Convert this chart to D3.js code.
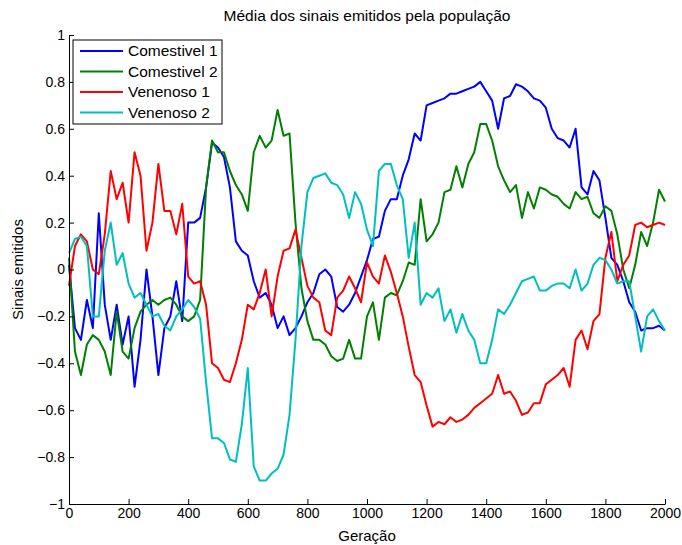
<!DOCTYPE html>
<html>
<head>
<meta charset="utf-8">
<script src="https://cdn.jsdelivr.net/npm/d3@7"></script>
<style>
  body { margin: 0; background: #fff; }
  text { font-family: "Liberation Sans", Arial, sans-serif; }
  .axis path, .axis line { stroke: #000; }
  .axis text { font-size: 14px; fill: #000; }
</style>
</head>
<body>
<div id="chart"></div>
<script>
////////////////////////////////////////////////////////////////////////
// Data (one value every 20 generations)

let generations = d3.range(0, 2001, 20);

let comestivel1 = [
  0.02, -0.25, -0.3, -0.13, -0.25, 0.24, -0.15, -0.3, -0.15, -0.32,
  -0.2, -0.5, -0.3, 0.0, -0.2, -0.45, -0.25, -0.2, -0.05, -0.22,
  0.2, 0.2, 0.22, 0.35, 0.54, 0.52, 0.48, 0.35, 0.12, 0.08,
  0.06, -0.05, -0.12, -0.1, -0.15, -0.25, -0.2, -0.28, -0.25, -0.2,
  -0.14, -0.1, -0.02, 0.0, -0.03, -0.16, -0.18, -0.15, -0.1, -0.03,
  0.04, 0.13, 0.14, 0.25, 0.3, 0.3, 0.4, 0.47, 0.58, 0.55,
  0.7, 0.71, 0.72, 0.73, 0.75, 0.75, 0.76, 0.77, 0.78, 0.8,
  0.76, 0.72, 0.6, 0.73, 0.74, 0.79, 0.78, 0.76, 0.73, 0.72,
  0.69, 0.6, 0.56, 0.55, 0.52, 0.6, 0.35, 0.32, 0.42, 0.38,
  0.22, 0.05, 0.02, -0.05, -0.14, -0.18, -0.26, -0.25, -0.25, -0.24,
  -0.26
];

let comestivel2 = [
  0.05, -0.35, -0.45, -0.32, -0.28, -0.3, -0.35, -0.45, -0.18, -0.35,
  -0.38, -0.25, -0.18, -0.15, -0.13, -0.15, -0.13, -0.12, -0.15, -0.2,
  -0.22, -0.2, -0.13, 0.35, 0.55, 0.5, 0.5, 0.42, 0.36, 0.32,
  0.25, 0.5, 0.57, 0.52, 0.55, 0.68, 0.57, 0.58, 0.2, -0.08,
  -0.22, -0.3, -0.3, -0.32, -0.37, -0.39, -0.38, -0.3, -0.38, -0.38,
  -0.2, -0.14, -0.3, -0.12, -0.1, -0.11, -0.05, 0.03, 0.02, 0.3,
  0.12, 0.15, 0.2, 0.33, 0.34, 0.44, 0.35, 0.45, 0.5, 0.62,
  0.62, 0.55, 0.44, 0.38, 0.33, 0.36, 0.22, 0.33, 0.26, 0.35,
  0.34, 0.32, 0.31, 0.28, 0.26, 0.33, 0.3, 0.31, 0.24, 0.22,
  0.27, 0.25, 0.15, 0.0, -0.08, 0.02, 0.16, 0.1, 0.2, 0.34,
  0.29
];

let venenoso1 = [
  -0.07, 0.1, 0.15, 0.12, 0.0, -0.02, 0.15, 0.42, 0.3, 0.37,
  0.2, 0.5, 0.4, 0.08, 0.2, 0.45, 0.25, 0.25, 0.15, 0.28,
  -0.03, -0.06, -0.05, -0.15, -0.4, -0.42, -0.47, -0.48, -0.4, -0.3,
  -0.15, -0.17, -0.1, 0.0, -0.2, -0.03, 0.08, 0.09, 0.17, 0.05,
  -0.07, -0.12, -0.14, -0.26, -0.28, -0.12, -0.09, -0.03, -0.08, -0.14,
  0.03, -0.03, -0.06, 0.06, -0.01, -0.1, -0.2, -0.33, -0.45, -0.48,
  -0.58, -0.67, -0.65, -0.66, -0.63, -0.65, -0.64, -0.62, -0.59, -0.57,
  -0.55, -0.53, -0.45, -0.53, -0.52, -0.56, -0.62, -0.61, -0.57, -0.57,
  -0.49, -0.47, -0.45, -0.42, -0.5, -0.3, -0.26, -0.34, -0.22, -0.19,
  0.05, 0.16, -0.05, 0.02, 0.06, 0.19, 0.2, 0.18, 0.19, 0.2,
  0.19
];

let venenoso2 = [
  0.07, 0.13, 0.14, 0.1, -0.2, -0.2, 0.08, 0.2, 0.02, 0.07,
  -0.06, -0.12, -0.1, -0.15, -0.2, -0.19, -0.24, -0.26, -0.2, -0.17,
  -0.13, -0.16, -0.21, -0.48, -0.72, -0.72, -0.74, -0.81, -0.82, -0.66,
  -0.42, -0.84, -0.9, -0.9, -0.87, -0.85, -0.79, -0.62, -0.3, 0.1,
  0.33, 0.39, 0.4, 0.41, 0.37, 0.36, 0.32, 0.22, 0.33, 0.28,
  0.17, 0.1, 0.42, 0.45, 0.45, 0.36, 0.3, 0.05, 0.2, -0.15,
  -0.1, -0.12, -0.08, -0.22, -0.17, -0.27, -0.19, -0.26, -0.3, -0.4,
  -0.4, -0.3, -0.17, -0.19, -0.15, -0.1, -0.05, -0.04, -0.03, -0.09,
  -0.09, -0.07, -0.06, -0.06, -0.08, 0.0, -0.09, -0.06, 0.02, 0.05,
  0.04, 0.0, -0.06, -0.05, -0.05, -0.2, -0.35, -0.2, -0.17, -0.22,
  -0.26
];

let seriesNames = ["Comestivel 1", "Comestivel 2", "Venenoso 1", "Venenoso 2"];
let seriesValues = [comestivel1, comestivel2, venenoso1, venenoso2];
let seriesColors = ["#0000ff", "#008000", "#ff0000", "#00bfbf"];

let xTicks = d3.range(0, 2001, 200);
let yTicks = [-1, -0.8, -0.6, -0.4, -0.2, 0, 0.2, 0.4, 0.6, 0.8, 1];

////////////////////////////////////////////////////////////////////////
// SVG setup

let W = 682, H = 545;
let margin = { left: 69, right: 17, top: 35, bottom: 41 };
let width = W - margin.left - margin.right;
let height = H - margin.top - margin.bottom;

let svg = d3.select("#chart").append("svg")
  .attr("width", W).attr("height", H);

let g = svg.append("g")
  .attr("transform", `translate(${margin.left},${margin.top})`);

let xScale = d3.scaleLinear().domain([0, 2000]).range([0, width]);
let yScale = d3.scaleLinear().domain([-1, 1]).range([height, 0]);

////////////////////////////////////////////////////////////////////////
// Lines

let line = d3.line()
  .x((d, i) => xScale(generations[i]))
  .y(d => yScale(d));

g.selectAll(".serie")
  .data(seriesValues)
  .enter().append("path")
  .attr("class", "serie")
  .attr("d", line)
  .style("fill", "none")
  .style("stroke", (d, i) => seriesColors[i])
  .style("stroke-width", 2)
  .style("stroke-linejoin", "round");

////////////////////////////////////////////////////////////////////////
// Axes (MATLAB style: ticks pointing inwards)

let fmt = d3.format("~g");

g.append("g")
  .attr("class", "axis")
  .attr("transform", `translate(0,${height})`)
  .call(d3.axisBottom(xScale).tickValues(xTicks).tickFormat(fmt)
    .tickSizeInner(-5).tickSizeOuter(0).tickPadding(4));

g.append("g")
  .attr("class", "axis")
  .call(d3.axisLeft(yScale).tickValues(yTicks).tickFormat(fmt)
    .tickSizeInner(-5).tickSizeOuter(0).tickPadding(4));

// Title and axis labels
svg.append("text")
  .attr("x", margin.left + width / 2).attr("y", 21)
  .attr("text-anchor", "middle")
  .style("font-size", "15.5px")
  .text("Média dos sinais emitidos pela população");

svg.append("text")
  .attr("x", margin.left + width / 2).attr("y", 541)
  .attr("text-anchor", "middle")
  .style("font-size", "15px")
  .text("Geração");

svg.append("text")
  .attr("transform", `translate(23,${margin.top + height / 2}) rotate(-90)`)
  .attr("text-anchor", "middle")
  .style("font-size", "15px")
  .text("Sinais emitidos");

////////////////////////////////////////////////////////////////////////
// Legend

let legend = svg.append("g").attr("transform", "translate(73,40)");

legend.append("rect")
  .attr("width", 149).attr("height", 84)
  .style("fill", "#fff").style("stroke", "#000").style("stroke-width", 1);

let item = legend.selectAll(".item")
  .data(seriesNames)
  .enter().append("g")
  .attr("class", "item")
  .attr("transform", (d, i) => `translate(0,${11 + i * 20.5})`);

item.append("line")
  .attr("x1", 7).attr("x2", 50)
  .style("stroke", (d, i) => seriesColors[i])
  .style("stroke-width", 2);

item.append("text")
  .attr("x", 55).attr("dy", "0.35em")
  .style("font-size", "15.5px")
  .text(d => d);
</script>
</body>
</html>
